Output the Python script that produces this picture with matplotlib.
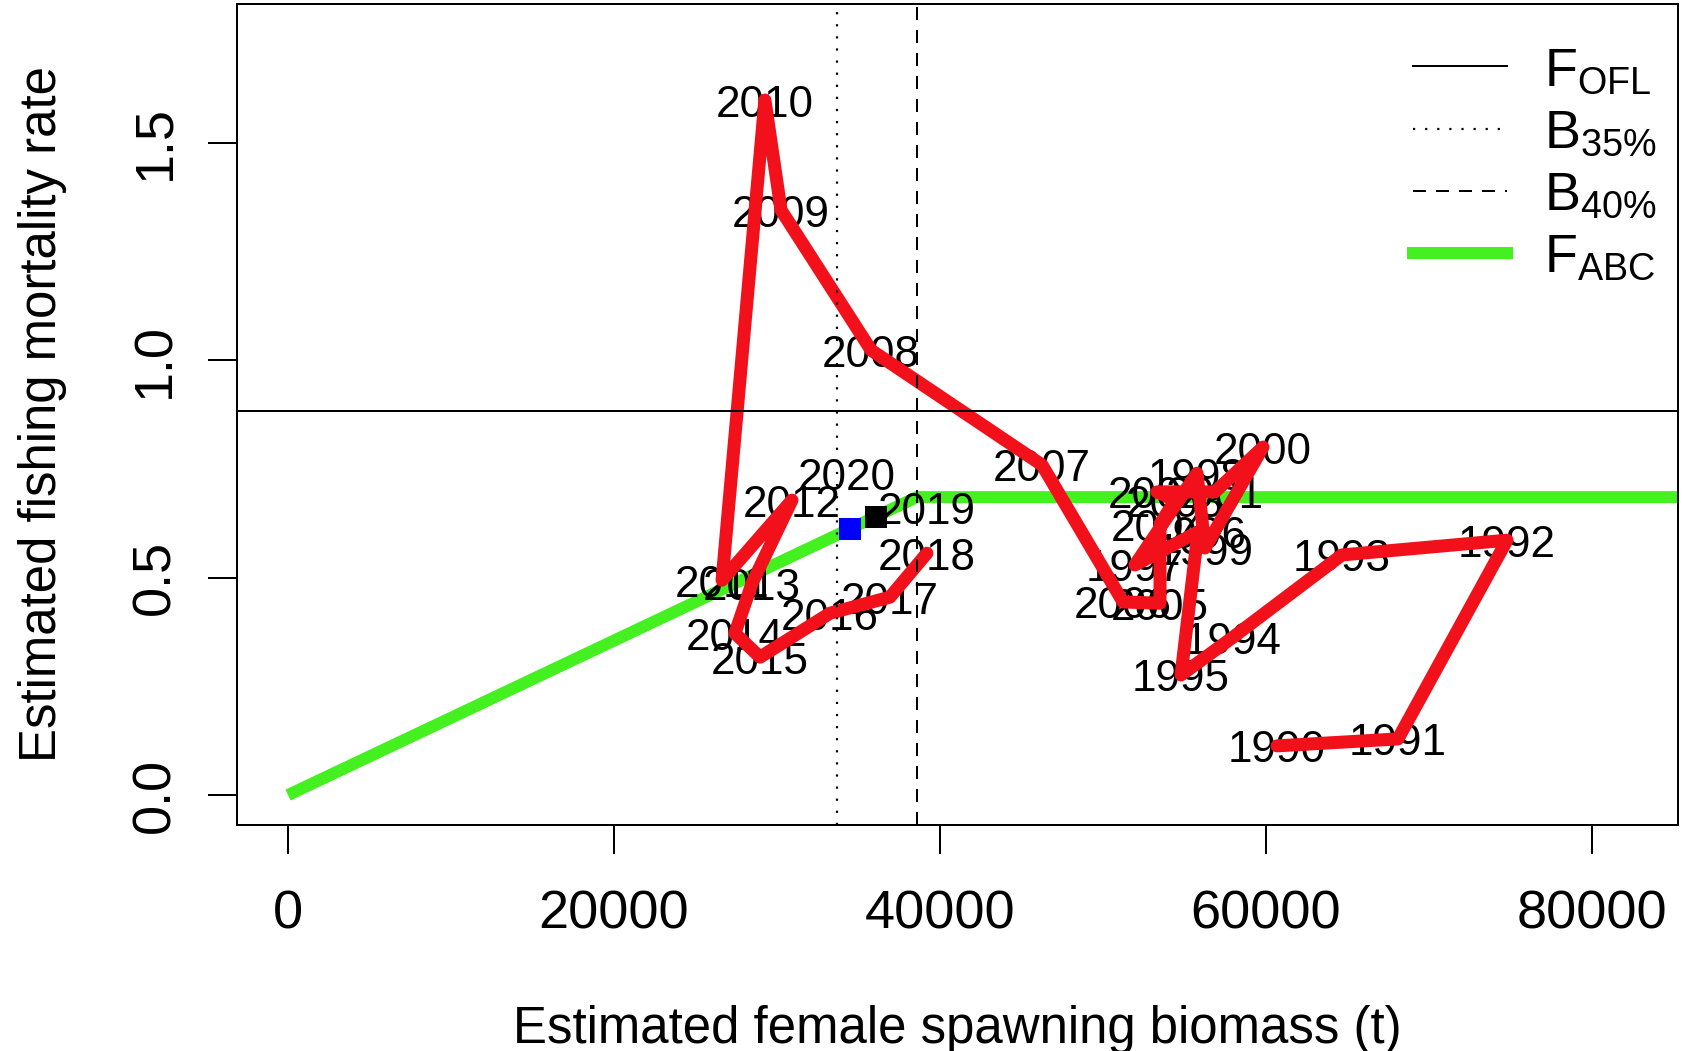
import numpy as np
from matplotlib import pyplot as plt
from matplotlib.lines import Line2D
from matplotlib.transforms import offset_copy

plt.rcParams['font.family'] = ['Liberation Sans', 'DejaVu Sans']
plt.rcParams['mathtext.default'] = 'regular'

# estimated spawning biomass (t) and fishing mortality by year
years = list(range(1990, 2021))
ssb = [60680, 68100, 74790, 64660, 57980, 54790, 55830, 51960, 55770, 56260,
       59820, 56870, 53310, 54420, 53500, 53500, 51230, 46260, 35770, 30250,
       29260, 26630, 30920, 28470, 27420, 28960, 33250, 36930, 39200, 39200,
       34300]
fmort = [0.113, 0.129, 0.586, 0.552, 0.363, 0.276, 0.605, 0.529, 0.740, 0.568,
         0.800, 0.697, 0.697, 0.678, 0.623, 0.441, 0.444, 0.759, 1.023, 1.345,
         1.598, 0.494, 0.678, 0.487, 0.372, 0.317, 0.418, 0.455, 0.556, 0.660,
         0.740]
n_path = 29  # red path stops at 2018

# projected points (2019 black, 2020 blue)
proj_ssb = [36070, 34480]
proj_f = [0.639, 0.612]
proj_col = ['black', 'blue']

# reference points and harvest control rule
f_ofl = 0.884
b35 = 33700
b40 = 38580
abc_b = [0, b40, 95000]
abc_f = [0, 0.685, 0.685]

fig = plt.figure(figsize=(1682 / 72, 1051 / 72), dpi=72)
ax = fig.add_axes([237 / 1682, 1 - 824.6 / 1051, 1441 / 1682, 821.1 / 1051])

ax.plot(abc_b, abc_f, color='#45F021', lw=12, solid_capstyle='butt', zorder=2)
txt_tr = offset_copy(ax.transData, fig=fig, y=-5, units='dots')
for i in range(len(years)):
    ax.text(ssb[i], fmort[i], str(years[i]), fontsize=44, ha='center', va='center',
            transform=txt_tr, zorder=3)
ax.plot(ssb[:n_path], fmort[:n_path], color='#F2101A', lw=13,
        solid_capstyle='round', solid_joinstyle='round', zorder=4)
for i in range(2):
    ax.plot(proj_ssb[i], proj_f[i], marker='s', ms=22, color=proj_col[i], mew=0, zorder=5)

ax.axhline(f_ofl, color='black', lw=2, zorder=6)
ax.axvline(b35, color='black', lw=2.2, ls=(0, (1, 4.5)), zorder=6)
ax.axvline(b40, color='black', lw=2, ls=(0, (6.5, 5)), zorder=6)

ax.set_xlim(-3130, 85280)
ax.set_ylim(-0.068, 1.820)
ax.set_xticks([0, 20000, 40000, 60000, 80000])
ax.set_yticks([0, 0.5, 1.0, 1.5])
ax.set_yticklabels(['0.0', '0.5', '1.0', '1.5'], rotation=90, va='center')
ax.tick_params(labelsize=54, length=29, width=2)
ax.tick_params(axis='x', pad=36)
ax.tick_params(axis='y', pad=28)
for s in ax.spines.values():
    s.set_linewidth(2)

ax.set_xlabel('Estimated female spawning biomass (t)', fontsize=51, va='center')
ax.xaxis.set_label_coords(0.5, -0.2492)
ax.set_ylabel('Estimated fishing mortality rate', fontsize=51, va='center')
ax.yaxis.set_label_coords(-0.1353, 0.5)

handles = [Line2D([], [], color='black', lw=2),
           Line2D([], [], color='black', lw=2.2, ls=(0, (1, 4.5))),
           Line2D([], [], color='black', lw=2, ls=(0, (6.5, 5))),
           Line2D([], [], color='#45F021', lw=12)]
labels = [r'$F_{OFL}$', r'$B_{35\%}$', r'$B_{40\%}$', r'$F_{ABC}$']
ax.legend(handles, labels, loc='upper right', bbox_to_anchor=(0.9854, 0.948),
          frameon=False, fontsize=54, handlelength=1.75, handletextpad=0.68,
          labelspacing=0.226, borderpad=0, borderaxespad=0)

fig.savefig('out.png', dpi=72)
